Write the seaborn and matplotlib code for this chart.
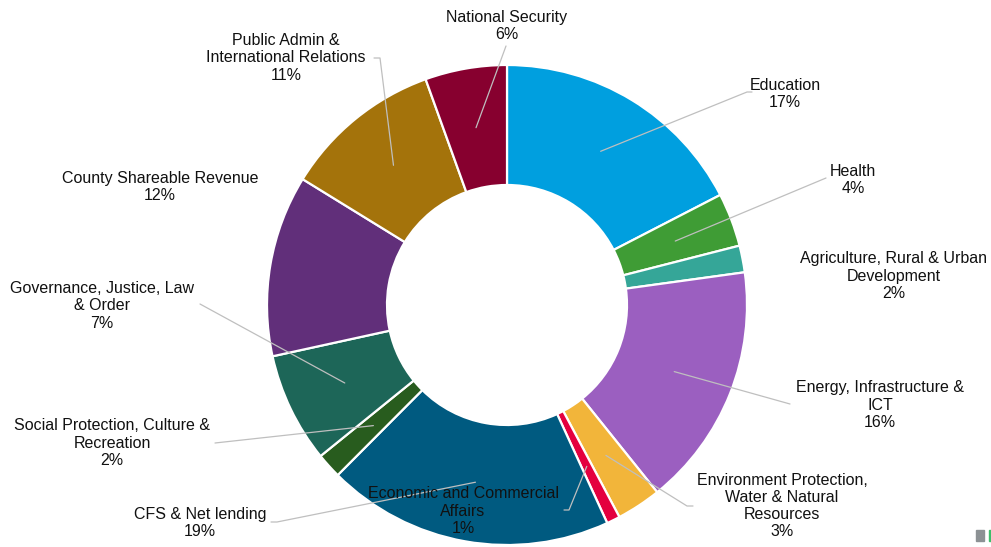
import numpy as np
import matplotlib
matplotlib.use("Agg")
import matplotlib.pyplot as plt
import seaborn as sns

# ---- data ----
sectors = [
    "Education",
    "Health",
    "Agriculture, Rural & Urban\nDevelopment",
    "Energy, Infrastructure &\nICT",
    "Environment Protection,\nWater & Natural\nResources",
    "Economic and Commercial\nAffairs",
    "CFS & Net lending",
    "Social Protection, Culture &\nRecreation",
    "Governance, Justice, Law\n& Order",
    "County Shareable Revenue",
    "Public Admin &\nInternational Relations",
    "National Security",
]
shares = [17.4, 3.6, 1.8, 16.4, 3.0, 0.9, 19.3, 1.7, 7.4, 12.2, 10.7, 5.5]
colors = ["#009FDF", "#3F9C35", "#35A698", "#9B5FC0", "#F2B53A", "#E4003F",
          "#005A80", "#285C1E", "#1D6658", "#612F7A", "#A4730B", "#87002F"]

# ---- layout (pixels, measured from top-left) ----
W, H = 991, 547
CX, CY, R = 507, 305, 240
label_pos = [(785, 94), (853, 180), (894, 276), (880, 405), (782, 506),
             (463, 511), (200, 523), (112, 443), (102, 306), (160, 187),
             (286, 58), (507, 26)]
# leader line bends / ends (None = no leader line)
leader_pts = [
    [(747, 92), (752, 92)],
    [(826, 178)],
    None,
    [(790, 404)],
    [(687, 506), (693, 506)],
    [(569, 510), (564, 510)],
    [(277, 522), (271, 522)],
    [(215, 443)],
    [(200, 304)],
    None,
    [(380, 58), (374, 58)],
    [(506, 46)],
]

sns.set_theme(style="white")
plt.rcParams["font.family"] = ["Liberation Sans", "DejaVu Sans"]

fig = plt.figure(figsize=(W / 100, H / 100), dpi=100)
ax = fig.add_axes([0, 0, 1, 1])


def P(x, y):
    return x, H - y


total = sum(shares)
pct_labels = [f"{v / total * 100:.0f}%" for v in shares]

wedges, _ = ax.pie(
    shares, colors=colors, startangle=90, counterclock=False,
    radius=R, center=P(CX, CY),
    wedgeprops=dict(width=R / 2, edgecolor="white", linewidth=1.6),
)
ax.set_xlim(0, W)
ax.set_ylim(0, H)
ax.set_aspect("equal")
ax.axis("off")

for i, w in enumerate(wedges):
    mid = np.deg2rad((w.theta1 + w.theta2) / 2)
    rm = R * 0.75
    sx = CX + rm * np.cos(mid)
    sy = CY - rm * np.sin(mid)
    pts = leader_pts[i]
    if pts is not None:
        xs = [sx] + [p[0] for p in pts]
        ys = [H - sy] + [H - p[1] for p in pts]
        ax.plot(xs, ys, color="#BFBFBF", lw=0.9, zorder=3)
    lx, ly = label_pos[i]
    ax.text(*P(lx, ly), f"{sectors[i]}\n{pct_labels[i]}", ha="center",
            va="center", fontsize=11.5, color="#111111", linespacing=1.17,
            zorder=4)

# truncated legend remnant at bottom right
fig.patches.append(plt.Rectangle((976 / W, (H - 541) / H), 8 / W, 11 / H,
                                 transform=fig.transFigure, color="#8C9194",
                                 figure=fig))
fig.patches.append(plt.Rectangle((989 / W, (H - 541) / H), 1.5 / W, 11 / H,
                                 transform=fig.transFigure, color="#3DBE6A",
                                 figure=fig))

fig.savefig("out.png", dpi=100)
